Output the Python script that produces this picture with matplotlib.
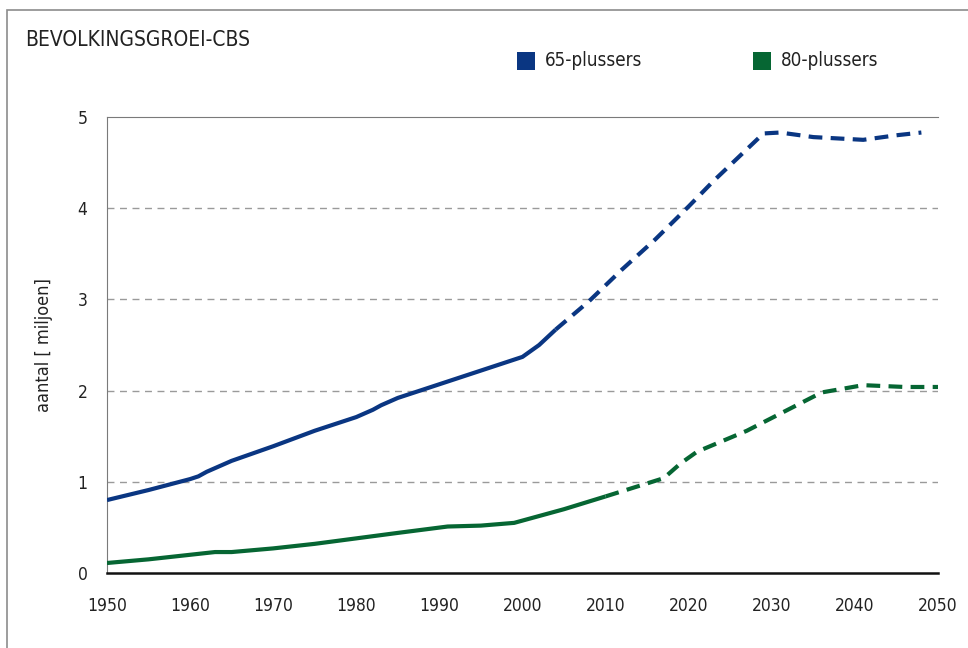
import matplotlib.pyplot as plt
from matplotlib.patches import Rectangle

# Bevolkingsgroei ouderen (miljoen personen), waarneming en prognose
years_65_obs = [1950, 1955, 1960, 1961, 1962, 1965, 1970, 1975, 1980, 1982, 1983, 1985,
                1990, 1995, 2000, 2002, 2004]
vals_65_obs = [0.80, 0.91, 1.03, 1.06, 1.11, 1.23, 1.39, 1.56, 1.71, 1.79, 1.84, 1.92,
               2.07, 2.22, 2.37, 2.50, 2.67]
years_65_prog = [2004, 2008, 2012, 2016, 2020, 2023, 2026, 2029, 2031, 2035, 2041, 2045, 2048]
vals_65_prog = [2.67, 2.98, 3.33, 3.66, 4.02, 4.30, 4.56, 4.82, 4.83, 4.78, 4.75, 4.80, 4.83]

years_80_obs = [1950, 1955, 1960, 1963, 1965, 1970, 1975, 1980, 1985, 1991, 1995, 1999,
                2005, 2010]
vals_80_obs = [0.11, 0.15, 0.20, 0.23, 0.23, 0.27, 0.32, 0.38, 0.44, 0.51, 0.52, 0.55,
               0.70, 0.84]
years_80_prog = [2010, 2017, 2019, 2021, 2027, 2030, 2036, 2041, 2046, 2050]
vals_80_prog = [0.84, 1.04, 1.20, 1.33, 1.56, 1.70, 1.98, 2.06, 2.04, 2.04]

x_ticks = list(range(1950, 2051, 10))
y_ticks = [0, 1, 2, 3, 4, 5]

blue = '#0a3682'
green = '#066633'

plt.rcParams['font.family'] = ['DejaVu Sans']
plt.rcParams['font.stretch'] = 'condensed'

fig = plt.figure(figsize=(9.68, 6.48), dpi=100)
ax = fig.add_axes([0.1105, 0.1157, 0.8585, 0.7037])

# outer frame, only the left and top edges fall inside the figure
fig.patches.append(Rectangle((0.007, -0.2), 1.2, 1.185, transform=fig.transFigure,
                             fill=False, edgecolor='#8c8c8c', lw=1.2))

for y in y_ticks[1:-1]:
    ax.axhline(y, color='#9a9a9a', lw=1, ls=(0, (5, 4)), zorder=1)

ax.plot(years_65_obs, vals_65_obs, color=blue, lw=3, solid_capstyle='butt', zorder=3)
ax.plot(years_65_prog, vals_65_prog, color=blue, lw=3, dashes=(3.3, 2.0), zorder=3)
ax.plot(years_80_obs, vals_80_obs, color=green, lw=3, solid_capstyle='butt', zorder=3)
ax.plot(years_80_prog, vals_80_prog, color=green, lw=3, dashes=(3.3, 2.0), zorder=3)

ax.set_xlim(1950, 2050)
ax.set_ylim(0, 5)
ax.set_xticks(x_ticks)
ax.set_yticks(y_ticks)
ax.tick_params(length=0, labelsize=12.5, colors='#222222')
ax.tick_params(axis='x', pad=17)
ax.tick_params(axis='y', pad=14)

ax.spines['right'].set_visible(False)
ax.spines['top'].set_color('#7a7a7a')
ax.spines['left'].set_color('#7a7a7a')
ax.spines['bottom'].set_color('#111111')
ax.spines['bottom'].set_linewidth(1.8)

ax.set_ylabel('aantal [ miljoen]', fontsize=13, color='#222222', labelpad=18)

fig.text(0.026, 0.938, 'BEVOLKINGSGROEI-CBS', fontsize=15, color='#222222', va='center')

# legenda
for x0, col, label in [(0.534, blue, '65-plussers'), (0.778, green, '80-plussers')]:
    fig.patches.append(Rectangle((x0, 0.892), 0.019, 0.028, transform=fig.transFigure,
                                 facecolor=col, edgecolor='none'))
    fig.text(x0 + 0.029, 0.906, label, fontsize=13.5, color='#222222', va='center')

fig.savefig('out.png', dpi=100)
